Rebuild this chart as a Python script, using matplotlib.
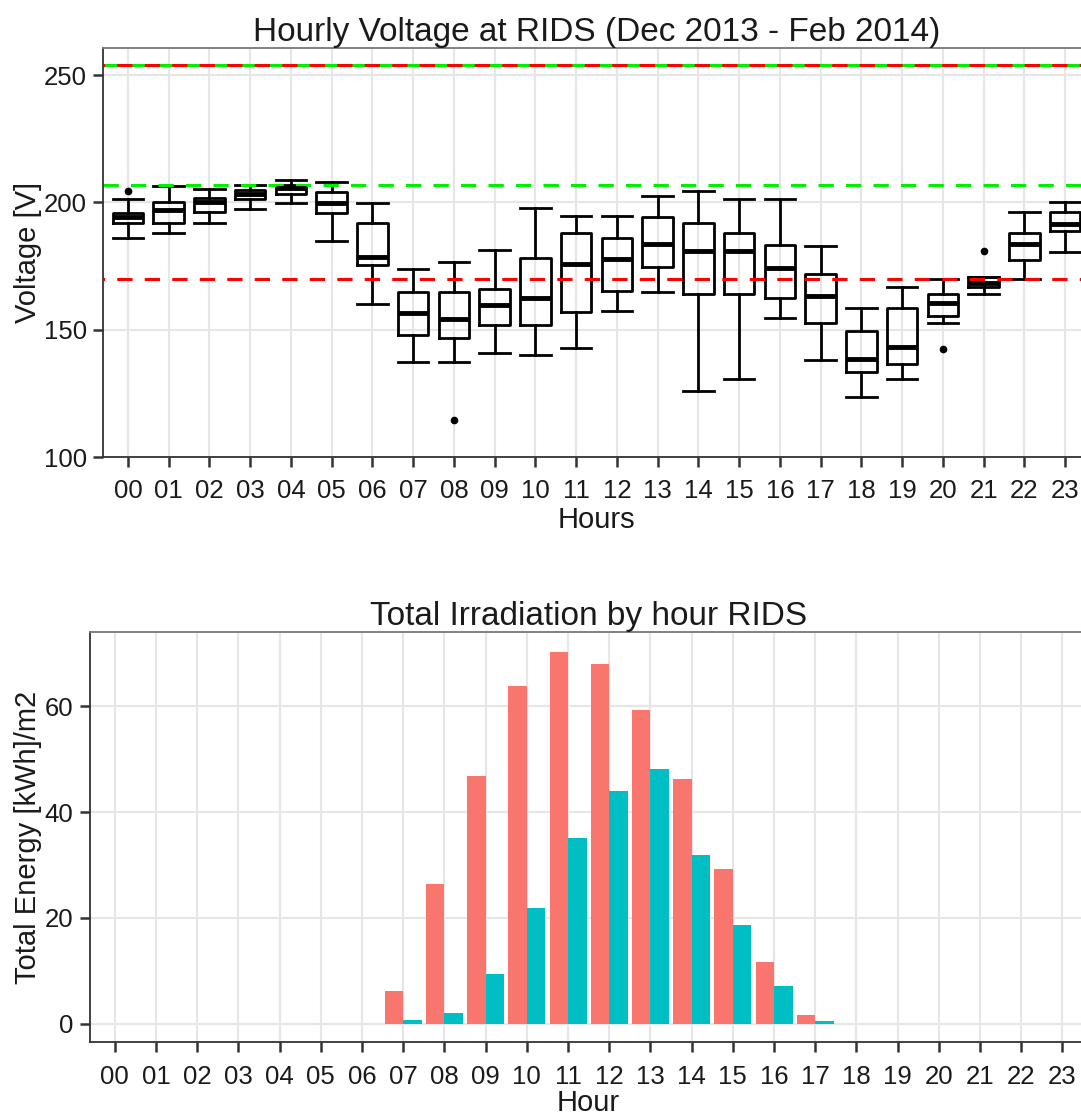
import numpy as np
import matplotlib
matplotlib.use("Agg")
import matplotlib.pyplot as plt

plt.rcParams['font.family'] = ['Liberation Sans', 'DejaVu Sans']

# ---- data ----
hour_labels = ["%02d" % h for h in range(24)]

# box statistics per hour: whisker low, Q1, median, Q3, whisker high
v_whislo = [185.9, 188.2, 191.8, 197.4, 199.7, 185.0, 160.2, 137.3, 137.3, 141.1, 140.2, 143.0,
            157.4, 165.0, 126.0, 130.6, 154.5, 138.2, 123.8, 130.6, 152.6, 164.1, 169.8, 180.4]
v_q1 = [191.8, 191.8, 196.4, 201.2, 203.3, 195.7, 175.5, 148.0, 146.7, 151.9, 151.9, 157.2,
        165.3, 174.5, 164.0, 164.0, 162.4, 152.6, 133.6, 136.6, 155.5, 167.0, 177.4, 188.9]
v_med = [194.4, 197.1, 200.3, 203.3, 205.6, 199.9, 178.7, 156.8, 154.2, 159.8, 162.6, 175.9,
         177.8, 183.7, 181.0, 181.1, 174.2, 163.4, 138.6, 143.4, 160.7, 168.5, 183.7, 191.4]
v_q3 = [196.0, 200.1, 201.6, 204.9, 206.9, 204.2, 191.8, 165.0, 165.0, 166.0, 178.3, 187.9,
        185.9, 194.4, 191.8, 187.9, 183.3, 171.8, 149.6, 158.5, 164.0, 170.6, 188.2, 196.1]
v_whishi = [201.4, 206.6, 205.3, 206.9, 208.8, 207.9, 199.7, 173.8, 176.5, 181.4, 197.7, 194.7,
            194.7, 202.5, 204.3, 201.2, 201.2, 182.9, 158.5, 167.0, 169.8, 170.6, 196.4, 200.3]
v_outliers = {0: [204.6], 8: [114.6], 20: [142.5], 21: [181.0]}

# reference voltage limits
green_limits = [254, 207]
red_limits = [254, 170]

# irradiation per hour (two series)
bar_hours = [7, 8, 9, 10, 11, 12, 13, 14, 15, 16, 17]
energy_red = [6.2, 26.4, 46.8, 63.8, 70.3, 68.1, 59.3, 46.3, 29.3, 11.6, 1.6]
energy_teal = [0.7, 2.1, 9.5, 21.9, 35.1, 44.0, 48.2, 32.0, 18.6, 7.1, 0.6]

RED = "#F8766D"
TEAL = "#00BFC4"
GRID = "#E6E6E6"
TXT = "#1a1a1a"

fig = plt.figure(figsize=(10.81, 11.15), dpi=100)
ax1 = fig.add_axes([0.0957, 0.5899, 0.9122, 0.3668])
ax2 = fig.add_axes([0.0834, 0.0652, 0.9223, 0.3677])


def style(ax):
    ax.set_axisbelow(True)
    ax.grid(True, color=GRID, linewidth=1.5)
    for s in ax.spines.values():
        s.set_color("#777777")
        s.set_linewidth(1.3)
    ax.spines['left'].set_color("#333333")
    ax.spines['bottom'].set_color("#333333")
    ax.tick_params(axis='both', length=7, width=1.8, color="#333333",
                   labelsize=18.5, labelcolor=TXT)
    ax.tick_params(axis='x', pad=9)
    ax.tick_params(axis='y', pad=5)


# ---- top: voltage boxplots ----
stats = []
for i in range(24):
    stats.append(dict(med=v_med[i], q1=v_q1[i], q3=v_q3[i],
                      whislo=v_whislo[i], whishi=v_whishi[i],
                      fliers=v_outliers.get(i, [])))
ax1.bxp(stats, positions=range(24), widths=0.75, capwidths=0.75,
        boxprops=dict(color="black", linewidth=2),
        whiskerprops=dict(color="black", linewidth=2),
        capprops=dict(color="black", linewidth=2),
        medianprops=dict(color="black", linewidth=3.5),
        flierprops=dict(marker='o', markersize=4.5, markerfacecolor='black',
                        markeredgecolor='black'))

for y in green_limits:
    ax1.axhline(y, color="#00EE00", linewidth=2.2, linestyle=(0, (5, 4)))
for y in red_limits:
    ax1.axhline(y, color="#FF0000", linewidth=2.2, linestyle=(4.5, (5, 4)))

style(ax1)
ax1.set_xlim(-0.6, 23.6)
ax1.set_ylim(100, 260.5)
ax1.set_yticks([100, 150, 200, 250])
ax1.set_xticks(range(24))
ax1.set_xticklabels(hour_labels)
ax1.set_title("Hourly Voltage at RIDS (Dec 2013 - Feb 2014)", fontsize=24, color=TXT, pad=5)
ax1.set_xlabel("Hours", fontsize=21, color=TXT, labelpad=2)
ax1.set_ylabel("Voltage [V]", fontsize=21, color=TXT, labelpad=1)

# ---- bottom: irradiation bars ----
xh = np.array(bar_hours)
ax2.bar(xh - 0.225, energy_red, width=0.45, color=RED)
ax2.bar(xh + 0.225, energy_teal, width=0.45, color=TEAL)

style(ax2)
ax2.set_xlim(-0.6, 23.6)
ax2.set_ylim(-3.5, 74.0)
ax2.set_yticks([0, 20, 40, 60])
ax2.set_xticks(range(24))
ax2.set_xticklabels(hour_labels)
ax2.set_title("Total Irradiation by hour RIDS", fontsize=24, color=TXT, pad=5)
ax2.set_xlabel("Hour", fontsize=21, color=TXT, labelpad=0)
ax2.set_ylabel("Total Energy [kWh]/m2", fontsize=21, color=TXT, labelpad=2)

fig.savefig("out.png", dpi=100)
